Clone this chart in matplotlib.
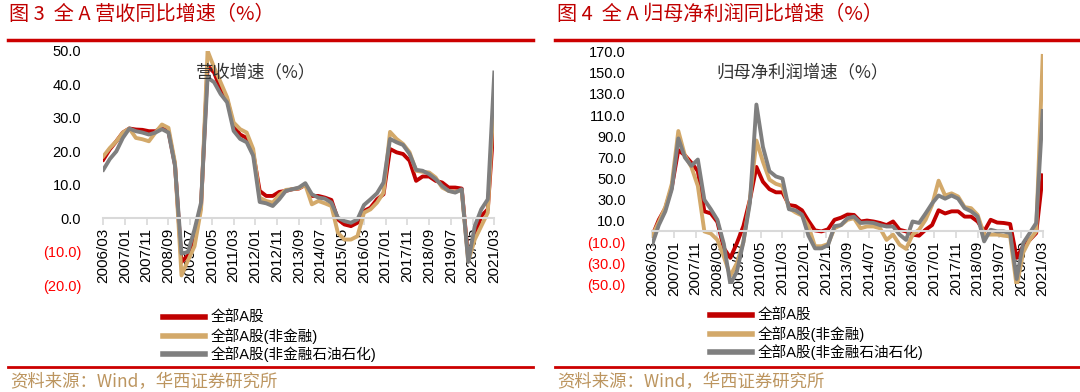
import pandas as pd
import matplotlib.pyplot as plt
from matplotlib.lines import Line2D

plt.rcParams['font.family'] = ['Liberation Sans', 'Noto Sans CJK SC']

# quarterly points 2006Q1 .. 2021Q1
quarters = pd.period_range('2006Q1', '2021Q1', freq='Q')
tick_labels = ['2006/03', '2007/01', '2007/11', '2008/09', '2009/07', '2010/05',
               '2011/03', '2012/01', '2012/11', '2013/09', '2014/07', '2015/05',
               '2016/03', '2017/01', '2017/11', '2018/09', '2019/07', '2020/05',
               '2021/03']

series_names = ['全部A股', '全部A股(非金融)', '全部A股(非金融石油石化)']
series_colors = ['#C00000', '#D3A96A', '#7F7F7F']

# 图3 营收同比增速
rev_all = [17.5, 20.6, 23, 25.6, 26.8, 26.5, 26.4, 26, 26, 27, 26, 16,
           -13, -11, -5, 3.7, 45.5, 43.5, 38.5, 35.5, 27.5, 25, 24, 19.5,
           8.2, 6.7, 6.7, 7.9, 8.2, 8.7, 8.9, 10, 6.7, 6.7, 6.2, 5.5,
           -0.3, -1.8, -2.3, -1.3, 2.2, 3.2, 5.7, 7.2, 20.7, 19.7, 19.2, 17.2,
           11.2, 12.5, 12.5, 11.2, 10.7, 9.2, 9.2, 8.9, -11.8, -5.3, 0.7, 2.7,
           30.8]
rev_nonfin = [18.5, 21, 23, 25.6, 26.8, 24, 23.6, 23, 25.6, 28, 27, 16.6,
              -17, -12.5, -8.3, 2.7, 50, 45, 40.6, 36.1, 28.6, 26.6, 25.6, 20.7,
              6.2, 5.2, 4.7, 7, 8.5, 8.7, 9, 10, 4.2, 5.2, 4.5, 3.7,
              -4.3, -6.3, -6.3, -5.3, 1.7, 2.7, 4.7, 7.7, 25.8, 23.7, 22.2, 19.7,
              14.2, 13.9, 13.7, 12.2, 9.2, 8.2, 7.9, 8.4, -12.8, -6.3, -2.3, 1.7,
              38.5]
rev_nonfin_ex = [14.5, 17.7, 20, 24, 26.8, 26, 25.6, 25, 25.6, 26.6, 25.6, 15.7,
                 -10.5, -10, -3.3, 4.7, 42, 40.6, 37.1, 34.6, 26.1, 23.7, 22.7, 18.7,
                 4.9, 4.5, 3.7, 5.7, 8.2, 8.7, 9.2, 10.5, 7.2, 6.2, 5.9, 4.7,
                 0.2, -0.8, -1.3, -0.3, 4, 5.7, 7.5, 10.7, 23.7, 22.7, 21.9, 19.2,
                 14.5, 14.2, 13.2, 11.7, 9.7, 8.2, 7.7, 8.7, -13, -2.3, 2.7, 5.7,
                 43.5]
rev_yticks = [-20, -10, 0, 10, 20, 30, 40, 50]
rev_ylabels = ['(20.0)', '(10.0)', '0.0', '10.0', '20.0', '30.0', '40.0', '50.0']

# 图4 归母净利润同比增速
np_all = [-4, 11, 22, 42, 77, 72, 65, 57, 19, 17, 9, -16,
          -25, -11, 5, 30, 61, 47, 40, 37, 37, 25, 24, 20,
          10, 1, 0, 2, 11, 13, 16, 15.6, 9.4, 10.3, 9.4, 8,
          6, 9.4, 1.6, 0, -3, -4, 1.6, 6, 20, 17, 19, 19,
          14, 14, 9.4, 0, 11, 8.4, 8, 7, -25, -14, -8, -1.6,
          53]
np_nonfin = [-4, 9, 23, 45, 95, 72, 61, 43, 0, -2, -8, -24,
             -42, -30, -10, 30, 86, 66, 49, 45, 43, 22, 18, 15,
             5, -14, -14, -12, 3, 6, 11, 12.5, 3, 4.7, 4.7, 3,
             -8, -3, -12.5, -16.5, -3, 1.6, 11, 25, 48, 34, 36, 33,
             23, 22, 15.6, -3, -3, -3, -4, -4.7, -52, -20, -8, 0,
             166]
np_nonfin_ex = [-12, 6, 19, 40, 88, 70, 62, 68, 30, 21, 11, -12,
                -50, -38, -10, 27, 120, 80, 57, 52, 50, 21, 20, 16,
                -4, -16, -16, -13, 5, 6, 12.5, 14, 8, 8.4, 8, 6,
                4.7, 4.7, -3, -8, 9.4, 8, 17, 26.5, 34, 31, 34, 31,
                22, 19, 14, -9.4, 1.6, 0, 0, -1.6, -45, -11, -1.6, 8,
                114]
np_yticks = [-50, -30, -10, 10, 30, 50, 70, 90, 110, 130, 150, 170]
np_ylabels = ['(50.0)', '(30.0)', '(10.0)', '10.0', '30.0', '50.0', '70.0',
              '90.0', '110.0', '130.0', '150.0', '170.0']

W, H = 1080, 392
fig = plt.figure(figsize=(W / 100, H / 100), dpi=100)

x = [(q.year - 2006) * 12 + q.quarter * 3 - 3 for q in quarters]
tick_pos = [(int(s[:4]) - 2006) * 12 + int(s[5:]) - 3 for s in tick_labels]


def panel(rect, data, yticks, ylabels, ypad, legend_xy, note, note_xy,
          title, title_x, x0, x1):
    ax = fig.add_axes(rect)
    for s in ['left', 'right', 'top']:
        ax.spines[s].set_visible(False)
    # x axis crosses at 0 (set before ticks, set_position resets them)
    ax.spines['bottom'].set_position(('data', 0))
    ax.spines['bottom'].set_color('#D9D9D9')
    ax.spines['bottom'].set_linewidth(1.5)
    ax.patch.set_alpha(0)

    for vals, name, col in zip(data, series_names, series_colors):
        ax.plot(x, vals, color=col, lw=2.8, label=name, solid_joinstyle='round')
    ax.set_xlim(0, 180)
    ax.set_ylim(yticks[0], yticks[-1])
    ax.set_yticks(yticks)
    ax.set_yticklabels(ylabels, fontsize=10.5)
    for lab, v in zip(ax.get_yticklabels(), yticks):
        lab.set_color('#FF0000' if v < 0 else 'black')
    ax.tick_params(axis='y', length=0, pad=ypad)
    ax.set_xticks(tick_pos)
    ax.set_xticklabels(tick_labels, rotation=90, fontsize=11)
    ax.tick_params(axis='x', length=5, color='#D9D9D9', width=1.2, pad=2)

    leg = ax.legend(loc='upper left', bbox_to_anchor=(legend_xy[0] / W, 1 - legend_xy[1] / H),
                    bbox_transform=fig.transFigure, frameon=False, fontsize=10.5,
                    handlelength=2.9, handletextpad=0.35, labelspacing=0.2,
                    borderpad=0, borderaxespad=0)
    for ln in leg.get_lines():
        ln.set_linewidth(4)

    fig.text(note_xy[0] / W, 1 - note_xy[1] / H, note, ha='center', va='center',
             fontsize=12.5, color='#333333', family=['Noto Sans CJK SC'])
    fig.text(title_x / W, 1 - 14 / H, title, ha='left', va='center', fontsize=14.5,
             color='#C00000', family=['Noto Sans CJK SC', 'DejaVu Sans'])
    fig.add_artist(Line2D([x0 / W, x1 / W], [1 - 40 / H] * 2, color='#CC0000', lw=2.5,
                          transform=fig.transFigure))
    fig.add_artist(Line2D([x0 / W, x1 / W], [1 - 367 / H] * 2, color='#CC0000', lw=2.0,
                          transform=fig.transFigure))
    fig.text((x0 + 2) / W, 1 - 382 / H, '资料来源：Wind，华西证券研究所', ha='left',
             va='center', fontsize=12.5, color='#BC955F', family=['Noto Sans CJK SC'])
    return ax


panel([103.3 / W, 1 - 285.5 / H, (494.3 - 103.3) / W, (285.5 - 50.7) / H],
      [rev_all, rev_nonfin, rev_nonfin_ex], rev_yticks, rev_ylabels, 16,
      (163, 311), '营收增速（%）', (256, 72), '图 3  全 A 营收同比增速（%）', 9, 8, 533)

panel([652.3 / W, 1 - 284.3 / H, (1042.7 - 652.3) / W, (284.3 - 51.7) / H],
      [np_all, np_nonfin, np_nonfin_ex], np_yticks, np_ylabels, 19,
      (710, 309), '归母净利润增速（%）', (803, 72), '图 4  全 A 归母净利润同比增速（%）', 557, 555, 1079)

fig.savefig('out.png', dpi=100)
